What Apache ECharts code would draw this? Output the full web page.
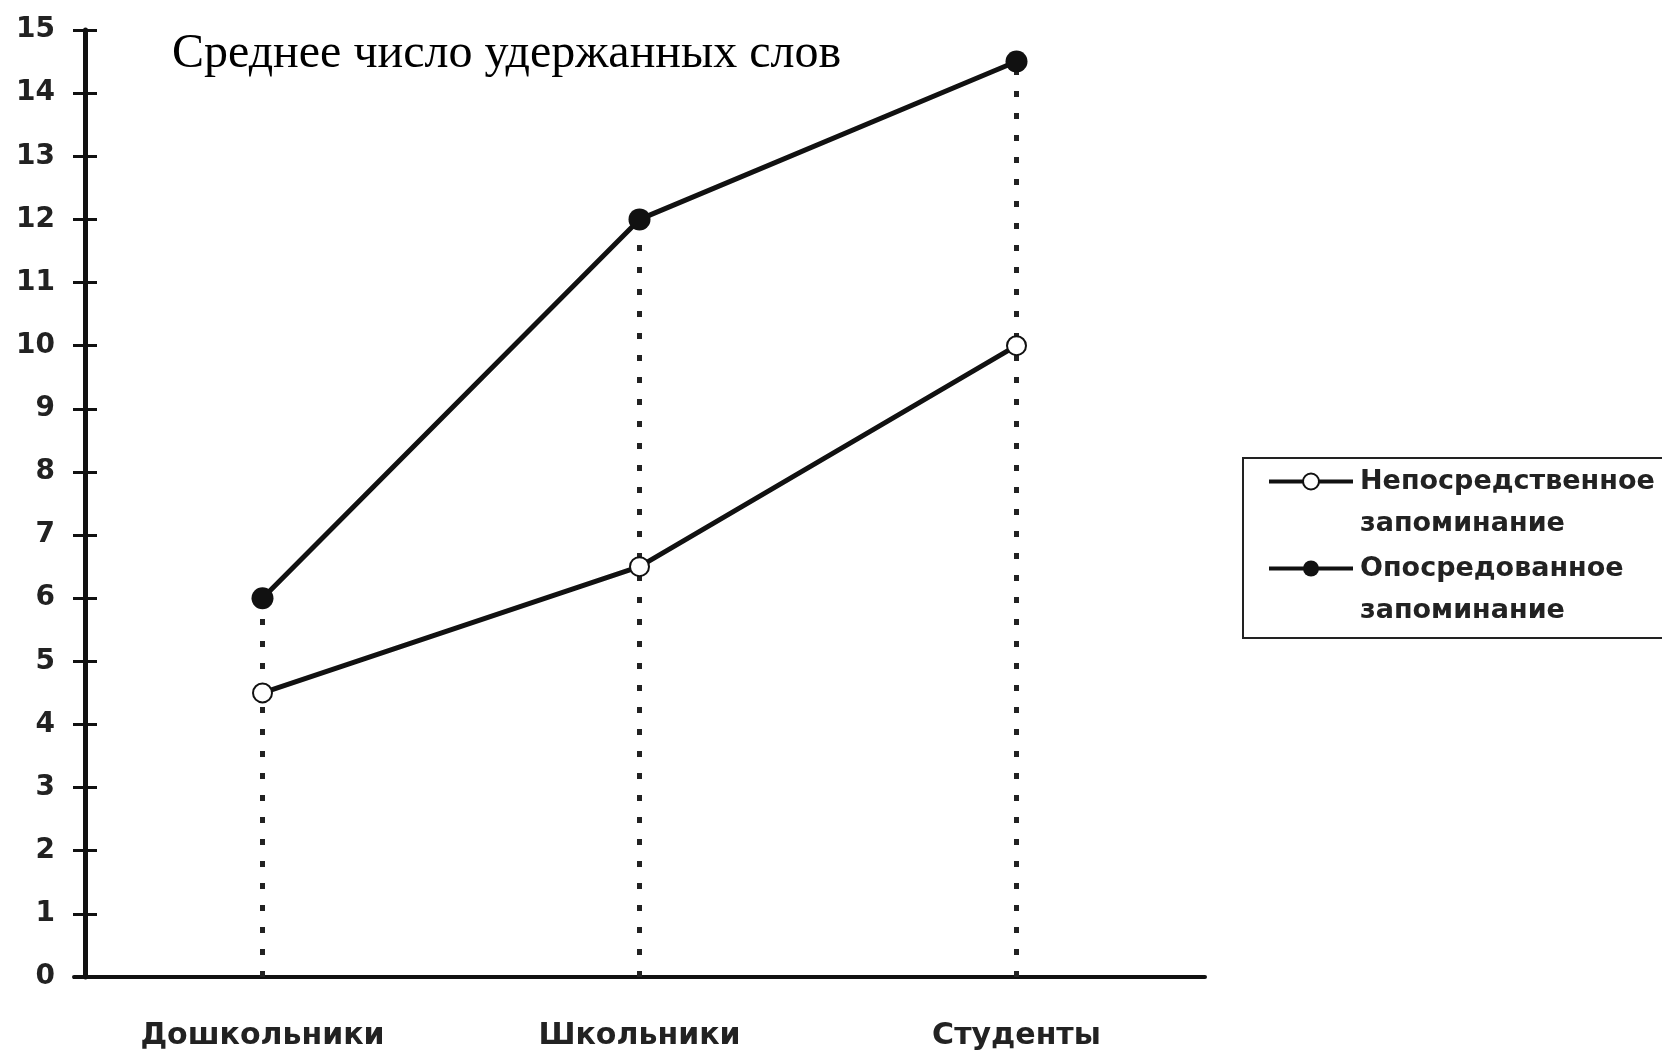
<!DOCTYPE html>
<html>
<head>
<meta charset="utf-8">
<script src="https://cdn.jsdelivr.net/npm/echarts@6/dist/echarts.min.js"></script>
<style>
html,body{margin:0;padding:0;background:#fff;}
#chart{width:1662px;height:1054px;}
</style>
</head>
<body>
<div id="chart"></div>
<script>
const titleText = 'Среднее число удержанных слов';
const categories = ['Дошкольники', 'Школьники', 'Студенты'];
const seriesNames = ['Непосредственное запоминание', 'Опосредованное запоминание'];
const directValues = [4.5, 6.5, 10];
const mediatedValues = [6, 12, 14.5];
const yTicks = [0, 15, 1]; // min, max, interval

const ink = '#111';
const labelFont = 'DejaVu Sans';

const dropLines = categories.map((c, i) => [
  { coord: [c, 0] },
  { coord: [c, mediatedValues[i]] }
]);

const chart = echarts.init(document.getElementById('chart'));
chart.setOption({
  backgroundColor: '#fff',
  animation: false,
  title: {
    text: titleText,
    left: 172,
    top: 30,
    padding: 0,
    textStyle: { fontFamily: 'Liberation Serif', fontWeight: 'normal', fontSize: 48, color: '#000' }
  },
  legend: {
    orient: 'vertical',
    left: 1243,
    top: 458,
    padding: [10, 30, 14, 24],
    itemGap: 18,
    itemWidth: 84,
    itemHeight: 20,
    borderColor: '#222',
    borderWidth: 2,
    data: seriesNames,
    lineStyle: { width: 4 },
    formatter: name => name.split(' ').map(w => '{t|' + w + '}').join('\n'),
    textStyle: {
      padding: [42, 0, 0, 2],
      rich: {
        t: { fontFamily: labelFont, fontWeight: 'bold', fontSize: 27, color: '#222', lineHeight: 42 }
      }
    }
  },
  grid: { left: 74, right: 457, top: 30, bottom: 77 },
  xAxis: {
    type: 'category',
    data: categories,
    boundaryGap: true,
    axisLine: { lineStyle: { color: ink, width: 4 } },
    axisTick: { show: false },
    axisLabel: { fontFamily: labelFont, fontWeight: 'bold', fontSize: 30, color: '#222', margin: 44 },
    splitLine: { show: false }
  },
  yAxis: [
    {
      type: 'value', min: yTicks[0], max: yTicks[1], interval: yTicks[2],
      offset: -11,
      axisLine: { show: true, lineStyle: { color: ink, width: 5 } },
      axisTick: { show: true, inside: false, length: 12, lineStyle: { color: ink, width: 3 } },
      axisLabel: { fontFamily: labelFont, fontWeight: 'bold', fontSize: 28, color: '#222', margin: 30 },
      splitLine: { show: false }
    },
    {
      type: 'value', min: yTicks[0], max: yTicks[1], interval: yTicks[2],
      position: 'left',
      offset: -11,
      axisLine: { show: false },
      axisTick: { show: true, inside: true, length: 12, lineStyle: { color: ink, width: 3 } },
      axisLabel: { show: false },
      splitLine: { show: false }
    }
  ],
  series: [
    {
      name: seriesNames[0],
      type: 'line',
      data: directValues,
      symbol: 'emptyCircle',
      symbolSize: 19,
      lineStyle: { color: ink, width: 5 },
      itemStyle: { color: ink, borderWidth: 3 },
      z: 3
    },
    {
      name: seriesNames[1],
      type: 'line',
      data: mediatedValues,
      symbol: 'circle',
      symbolSize: 22,
      lineStyle: { color: ink, width: 5 },
      itemStyle: { color: ink },
      z: 3,
      markLine: {
        silent: true,
        symbol: 'none',
        z: 1,
        label: { show: false },
        lineStyle: { color: '#222', width: 5, type: [6, 16] },
        data: dropLines
      }
    }
  ]
});
</script>
</body>
</html>
